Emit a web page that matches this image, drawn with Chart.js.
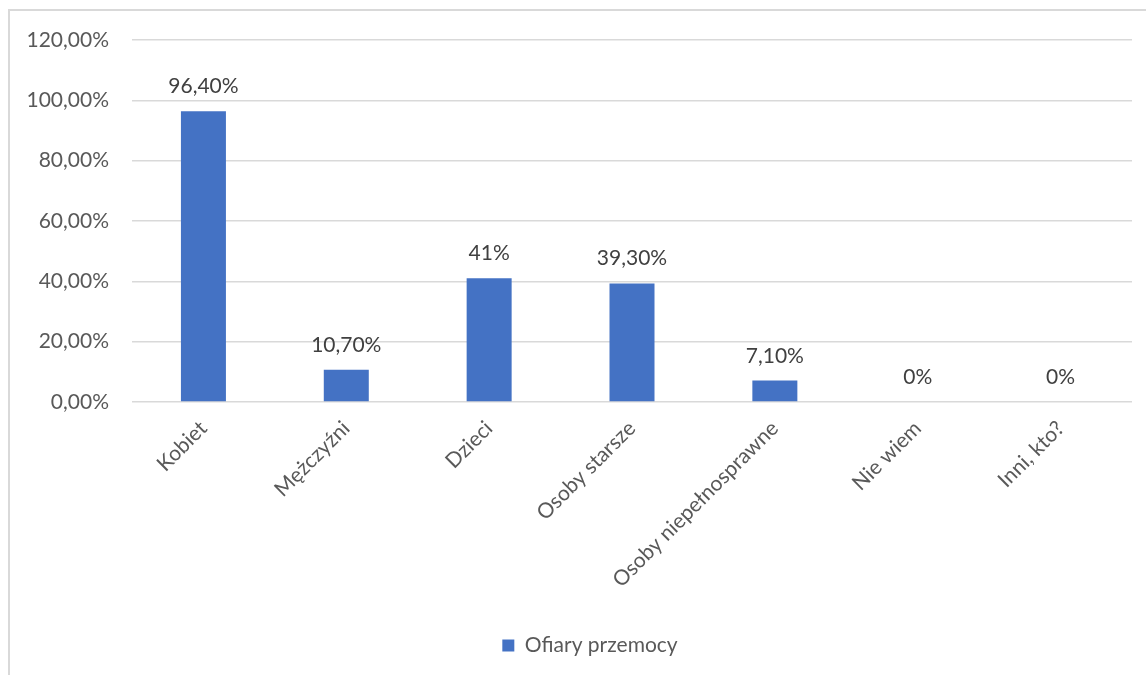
<!DOCTYPE html>
<html>
<head>
<meta charset="utf-8">
<script src="https://cdn.jsdelivr.net/npm/chart.js@4.4.0/dist/chart.umd.min.js"></script>
<style>
    body { margin: 0; background: #fff; overflow: hidden; }
    #frame { position: absolute; left: 8px; top: 9px; width: 1200px; height: 720px; border: 2px solid #d9d9d9; }
    #wrap { position: absolute; left: 0; top: 0; width: 1146px; height: 675px; }
</style>
</head>
<body>
<div id="frame"></div>
<div id="wrap"><canvas id="chart"></canvas></div>
<script>
// --- DATA ---
const categories = ['Kobiet', 'Mężczyźni', 'Dzieci', 'Osoby starsze', 'Osoby niepełnosprawne', 'Nie wiem', 'Inni, kto?'];
const values = [96.4, 10.7, 41, 39.3, 7.1, 0, 0];
const valueLabels = ['96,40%', '10,70%', '41%', '39,30%', '7,10%', '0%', '0%'];
const seriesName = 'Ofiary przemocy';

const TEXT = '#595959';
const FONT = 'Lato, "Open Sans", sans-serif';

// data labels above the bars
const barLabels = {
    id: 'barLabels',
    afterLayout(chart) {
        // legend sits a little right of the canvas centre, like the original
        if (chart.legend) {
            chart.legend.left += 24;
            chart.legend.right += 24;
        }
    },
    afterDatasetsDraw(chart) {
        const ctx = chart.ctx;
        const meta = chart.getDatasetMeta(0);
        ctx.save();
        ctx.font = '21px ' + FONT;
        ctx.fillStyle = '#404040';
        ctx.textAlign = 'center';
        ctx.textBaseline = 'alphabetic';
        meta.data.forEach((bar, i) => {
            ctx.fillText(valueLabels[i], bar.x, bar.y - 18);
        });
        ctx.restore();
    }
};

new Chart(document.getElementById('chart'), {
    type: 'bar',
    data: {
        labels: categories,
        datasets: [{
            label: seriesName,
            data: values,
            backgroundColor: '#4472C4',
            barPercentage: 0.315,
            categoryPercentage: 1
        }]
    },
    options: {
        responsive: true,
        maintainAspectRatio: false,
        animation: false,
        layout: { padding: { top: 40, right: 14, bottom: 9, left: 0 } },
        scales: {
            x: {
                grid: { display: false },
                border: { display: false },
                afterFit: (scale) => { scale.height = 213; },
                ticks: {
                    color: TEXT,
                    font: { family: FONT, size: 21 },
                    minRotation: 45,
                    maxRotation: 45,
                    padding: 6
                }
            },
            y: {
                min: 0,
                max: 120,
                grid: { color: '#d9d9d9', lineWidth: 1.5, drawTicks: false },
                border: { display: false },
                afterFit: (scale) => { scale.width = 132; },
                ticks: {
                    stepSize: 20,
                    padding: 23,
                    color: TEXT,
                    font: { family: FONT, size: 21 },
                    callback: (v) => v.toFixed(2).replace('.', ',') + '%'
                }
            }
        },
        plugins: {
            legend: {
                position: 'bottom',
                labels: {
                    color: TEXT,
                    font: { family: FONT, size: 21 },
                    boxWidth: 12,
                    boxHeight: 12,
                    padding: 20
                }
            },
            tooltip: { enabled: false }
        }
    },
    plugins: [barLabels]
});
</script>
</body>
</html>
